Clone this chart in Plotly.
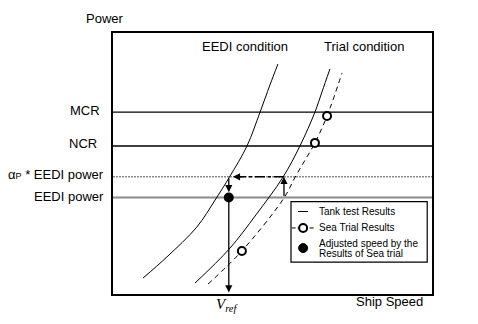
import plotly.graph_objects as go

# ---------------- data (arbitrary units: speed 0-100, power 0-100) ----------------
tank_eedi_speed = [9.4, 16.9, 26.3, 32.0, 36.7, 42.0, 46.1, 49.2, 51.7]
tank_eedi_power = [6.1, 14.2, 25.7, 36.0, 45.2, 56.7, 69.7, 80.1, 88.1]

tank_trial_speed = [25.7, 36.4, 44.8, 53.3, 58.6, 63.3, 65.5, 68.0]
tank_trial_power = [4.2, 17.2, 30.3, 44.8, 56.7, 69.7, 77.4, 86.2]

sea_fit_speed = [29.8, 40.4, 53.6, 57.1, 60.2, 63.3, 67.1, 71.8]
sea_fit_power = [3.8, 16.5, 36.8, 44.8, 51.3, 57.9, 68.2, 84.7]

sea_trial_speed = [40.4, 63.3, 67.1]
sea_trial_power = [16.5, 57.9, 68.2]

level_names = ["MCR", "NCR", "α<span style='font-size:9px'>P</span> * EEDI power", "EEDI power"]
level_values = [69.7, 56.7, 44.9, 37.0]

v_ref = 36.3          # adjusted (reference) speed
trial_speed_at_alpha = 53.6   # speed on sea trial curve at EEDI power

curve_labels = ["EEDI condition", "Trial condition"]

legend_labels = ["Tank test Results", "Sea Trial Results",
                 "Adjusted speed by the", "Results of Sea trial"]

FONT = "Liberation Sans, Arial, sans-serif"
mcr, ncr, alpha_p, eedi_p = level_values

fig = go.Figure()

# Tank test curves
fig.add_trace(go.Scatter(x=tank_eedi_speed, y=tank_eedi_power, mode="lines",
                         line=dict(color="black", width=1, shape="spline"),
                         showlegend=False, hoverinfo="skip"))
fig.add_trace(go.Scatter(x=tank_trial_speed, y=tank_trial_power, mode="lines",
                         line=dict(color="black", width=1, shape="spline"),
                         showlegend=False, hoverinfo="skip"))
# Sea trial fitted curve
fig.add_trace(go.Scatter(x=sea_fit_speed, y=sea_fit_power, mode="lines",
                         line=dict(color="black", width=1, shape="spline", dash="5px,4px"),
                         showlegend=False, hoverinfo="skip"))

shapes = []
# Reference power levels
shapes.append(dict(type="line", xref="paper", yref="y", x0=0, x1=1, y0=mcr, y1=mcr,
                   line=dict(color="black", width=1.3), layer="below"))
shapes.append(dict(type="line", xref="paper", yref="y", x0=0, x1=1, y0=ncr, y1=ncr,
                   line=dict(color="black", width=1.3), layer="below"))
shapes.append(dict(type="line", xref="paper", yref="y", x0=0, x1=1, y0=alpha_p, y1=alpha_p,
                   line=dict(color="#8a8a8a", width=1.5, dash="2px,1px"), layer="below"))
shapes.append(dict(type="line", xref="paper", yref="y", x0=0, x1=1, y0=eedi_p, y1=eedi_p,
                   line=dict(color="#8a8a8a", width=2), layer="below"))
# dash-dot horizontal transfer line
shapes.append(dict(type="line", xref="x", yref="y", x0=trial_speed_at_alpha, x1=v_ref + 1.6,
                   y0=alpha_p, y1=alpha_p,
                   line=dict(color="black", width=1.5, dash="10px,3px,3px,3px")))

# Legend box & samples (paper coords)
lx0, lx1, ly0, ly1 = 0.558, 0.985, 0.122, 0.354
shapes.append(dict(type="rect", xref="paper", yref="paper", x0=lx0, x1=lx1, y0=ly0, y1=ly1,
                   line=dict(color="black", width=1.2), fillcolor="white"))
shapes.append(dict(type="line", xref="paper", yref="paper", x0=0.580, x1=0.611, y0=0.316, y1=0.316,
                   line=dict(color="black", width=1)))
shapes.append(dict(type="line", xref="paper", yref="paper", x0=0.560, x1=0.632, y0=0.253, y1=0.253,
                   line=dict(color="black", width=1, dash="4px,2px")))
cx, r_x, r_y = 0.596, 4 / 319, 4 / 261
shapes.append(dict(type="circle", xref="paper", yref="paper", x0=cx - r_x, x1=cx + r_x,
                   y0=0.253 - r_y, y1=0.253 + r_y, line=dict(color="black", width=2),
                   fillcolor="white"))
r_x2, r_y2 = 4.5 / 319, 4.5 / 261
shapes.append(dict(type="circle", xref="paper", yref="paper", x0=cx - r_x2, x1=cx + r_x2,
                   y0=0.176 - r_y2, y1=0.176 + r_y2, line=dict(color="black", width=1),
                   fillcolor="black"))

# Sea trial points
fig.add_trace(go.Scatter(x=sea_trial_speed, y=sea_trial_power, mode="markers",
                         marker=dict(symbol="circle", size=8, color="white",
                                     line=dict(color="black", width=2)),
                         showlegend=False, hoverinfo="skip"))
# Adjusted speed point
fig.add_trace(go.Scatter(x=[v_ref], y=[eedi_p], mode="markers",
                         marker=dict(symbol="circle", size=10, color="black"),
                         showlegend=False, hoverinfo="skip"))

ann = []
# Level labels
shifts = [(-11, 2), (-14, 3), (-7, 2), (-7, 1)]
for name, val, (xs, ys) in zip(level_names, level_values, shifts):
    ann.append(dict(text=name, xref="paper", yref="y", x=0, y=val, xanchor="right",
                    yanchor="middle", xshift=xs, yshift=ys, showarrow=False,
                    font=dict(family=FONT, size=13, color="black")))
# Axis titles
ann.append(dict(text="Power", xref="paper", yref="paper", x=0, y=1, xanchor="center",
                yanchor="middle", xshift=-8, yshift=15, showarrow=False,
                font=dict(family=FONT, size=13, color="black")))
ann.append(dict(text="Ship Speed", xref="paper", yref="paper", x=1, y=0, xanchor="right",
                yanchor="middle", xshift=-7, yshift=-7, showarrow=False,
                font=dict(family=FONT, size=13, color="black")))
# Curve titles
for lbl, xv in zip(curve_labels, [41.5, 78.7]):
    ann.append(dict(text=lbl, xref="x", yref="y", x=xv, y=95.0, xanchor="center",
                    yanchor="middle", showarrow=False,
                    font=dict(family=FONT, size=13, color="black")))
# V_ref
ann.append(dict(text="<i>V</i><sub><i>ref</i></sub>", xref="x", yref="paper", x=v_ref, y=0,
                xanchor="center", yanchor="top", xshift=-1, yshift=0, showarrow=False,
                font=dict(family="Liberation Serif, Times New Roman, serif", size=15, color="black")))

# Arrows
arrow_common = dict(xref="x", yref="y", axref="x", ayref="y", showarrow=True,
                    arrowhead=2, arrowsize=1.1, arrowwidth=1.3, arrowcolor="black", text="")
ann.append(dict(x=trial_speed_at_alpha, y=alpha_p, ax=trial_speed_at_alpha, ay=eedi_p, **arrow_common))
ann.append(dict(x=v_ref + 1.3, y=alpha_p, ax=v_ref + 4.5, ay=alpha_p, **arrow_common))
ann.append(dict(x=v_ref, y=eedi_p + 2.0, ax=v_ref, ay=alpha_p, **arrow_common))
ann.append(dict(x=v_ref, y=0.6, ax=v_ref, ay=eedi_p, **arrow_common))

# Legend texts
leg_pos = [0.316, 0.253, 0.195, 0.157]
for t, yv in zip(legend_labels, leg_pos):
    ann.append(dict(text=t, xref="paper", yref="paper", x=0.639, y=yv, xanchor="left",
                    yanchor="middle", showarrow=False,
                    font=dict(family=FONT, size=10, color="black")))

fig.update_layout(
    width=478, height=324,
    margin=dict(l=113, r=46, t=33, b=30),
    paper_bgcolor="white", plot_bgcolor="white",
    shapes=shapes, annotations=ann, showlegend=False,
    xaxis=dict(range=[0, 100], showgrid=False, zeroline=False, showticklabels=False,
               ticks="", showline=True, mirror=True, linecolor="black", linewidth=1.5),
    yaxis=dict(range=[0, 100], showgrid=False, zeroline=False, showticklabels=False,
               ticks="", showline=True, mirror=True, linecolor="black", linewidth=1.5),
)

fig.write_html("out.html")
